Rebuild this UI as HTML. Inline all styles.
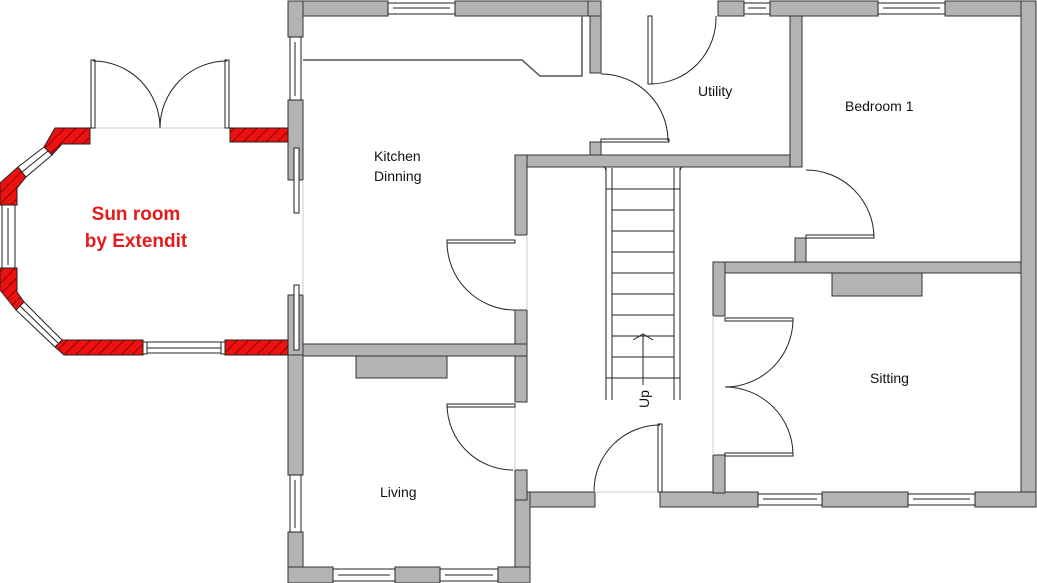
<!DOCTYPE html>
<html><head><meta charset="utf-8"><style>
html,body{margin:0;padding:0;background:#fff;width:1037px;height:583px;overflow:hidden}
svg{display:block}
text{font-family:"Liberation Sans",sans-serif;font-size:14px;fill:#111}
</style></head><body>
<svg width="1037" height="583" viewBox="0 0 1037 583">
<defs>
<pattern id="h" width="8" height="8" patternUnits="userSpaceOnUse" patternTransform="rotate(45)">
<rect width="8" height="8" fill="#ee1111"/><line x1="0" y1="0" x2="0" y2="8" stroke="#600" stroke-width="1.5"/>
</pattern>
</defs>
<g fill="#b3b3b3" stroke="#333" stroke-width="1">
<rect x="288" y="1" width="100" height="15"/>
<rect x="455" y="1" width="133" height="15"/>
<rect x="588" y="1" width="13" height="15"/>
<rect x="718" y="1" width="26" height="15"/>
<rect x="770" y="1" width="108" height="15"/>
<rect x="945" y="1" width="91" height="15"/>
<rect x="1021" y="1" width="15" height="506"/>
<rect x="515" y="492" width="80" height="15"/>
<rect x="660" y="492" width="98" height="15"/>
<rect x="822" y="492" width="86" height="15"/>
<rect x="975" y="492" width="61" height="15"/>
<rect x="515" y="492" width="15" height="91"/>
<rect x="288" y="1" width="15" height="36"/>
<rect x="288" y="100" width="15" height="30"/>
<rect x="288" y="318" width="15" height="157"/>
<rect x="288" y="532" width="15" height="51"/>
<rect x="288" y="567" width="45" height="16"/>
<rect x="395" y="567" width="45" height="16"/>
<rect x="498" y="567" width="32" height="16"/>
<rect x="590" y="16" width="11" height="57"/>
<rect x="590" y="142" width="11" height="14"/>
<rect x="515" y="155" width="287" height="12"/>
<rect x="515" y="155" width="12" height="80"/>
<rect x="515" y="310" width="12" height="92"/>
<rect x="515" y="470" width="12" height="30"/>
<rect x="303" y="344" width="224" height="12"/>
<rect x="790" y="16" width="12" height="151"/>
<rect x="795" y="238" width="11" height="26"/>
<rect x="713" y="262" width="308" height="11"/>
<rect x="713" y="262" width="12" height="54"/>
<rect x="713" y="455" width="12" height="38"/>
<rect x="356" y="356" width="91" height="22"/>
<rect x="832" y="273" width="90" height="23"/>
<rect x="288" y="100" width="15" height="80"/>
<rect x="288" y="295" width="15" height="60"/>
</g>
<g stroke="#222" fill="#fff" stroke-width="1">
<rect x="388" y="3" width="67" height="11"/><line x1="393" y1="8" x2="450" y2="8"/>
<rect x="744" y="3" width="26" height="11"/><line x1="748" y1="8" x2="766" y2="8"/>
<rect x="878" y="3" width="67" height="11"/><line x1="883" y1="8" x2="940" y2="8"/>
<rect x="758" y="494" width="64" height="11"/><line x1="763" y1="499" x2="817" y2="499"/>
<rect x="908" y="494" width="67" height="11"/><line x1="913" y1="499" x2="970" y2="499"/>
<rect x="333" y="569" width="62" height="12"/><line x1="338" y1="575" x2="390" y2="575"/>
<rect x="440" y="569" width="58" height="12"/><line x1="445" y1="575" x2="493" y2="575"/>
<rect x="290" y="37" width="11" height="63"/><line x1="295" y1="42" x2="295" y2="96"/>
<rect x="290" y="475" width="11" height="57"/><line x1="295" y1="480" x2="295" y2="528"/>
<rect x="294" y="148" width="5" height="65"/>
<rect x="294" y="285" width="5" height="65"/>
</g>
<g stroke="#ccc" fill="none" stroke-width="1">
<line x1="303" y1="180" x2="303" y2="295"/>
<line x1="527" y1="235" x2="527" y2="310"/>
<line x1="515" y1="402" x2="515" y2="470"/>
<line x1="713" y1="316" x2="713" y2="455"/>
<line x1="595" y1="492" x2="660" y2="492"/>
<line x1="92" y1="128" x2="227" y2="128"/>
</g>
<g stroke="#222" fill="none" stroke-width="1">
<rect x="447" y="240" width="68" height="3" fill="#fff"/><path d="M447 242 A68 68 0 0 0 515 310"/>
<rect x="447" y="404" width="68" height="3" fill="#fff"/><path d="M447 405 A66 66 0 0 0 513 470"/>
<rect x="601" y="139" width="68" height="3" fill="#fff"/><path d="M601 74 A67 67 0 0 1 668 141"/>
<rect x="648" y="16" width="4" height="68" fill="#fff"/><path d="M650 84 A66 66 0 0 0 716 16"/>
<rect x="806" y="235" width="68" height="3" fill="#fff"/><path d="M806 170 A68 68 0 0 1 874 238"/>
<rect x="658" y="424" width="4" height="68" fill="#fff"/><path d="M660 425 A66 66 0 0 0 594 491"/>
<rect x="725" y="318" width="68" height="3" fill="#fff"/><path d="M793 320 A68 68 0 0 1 725 387"/>
<rect x="725" y="453" width="68" height="3" fill="#fff"/><path d="M793 454 A68 68 0 0 0 725 387"/>
<rect x="91" y="60" width="4" height="68" fill="#fff"/><path d="M93 61 A67 67 0 0 1 160 128"/>
<rect x="225" y="60" width="4" height="68" fill="#fff"/><path d="M227 61 A67 67 0 0 0 160 128"/>
</g>
<path d="M303 60 L522 60 L540 76 L582 76 L582 16" stroke="#555" stroke-width="1.5" fill="none"/>
<g stroke="#222" fill="none" stroke-width="1">
<path d="M606 172 q0 -4 -2 -5 M680 172 q0 -4 2 -5"/>
<path d="M612 168 v232 M606 168 v232 M674 168 v232 M680 168 v232"/>
<rect x="606" y="189" width="6" height="189"/>
<rect x="674" y="189" width="6" height="189"/>
<path d="M612 189 h62 M612 210 h62 M612 231 h62 M612 252 h62 M612 273 h62 M612 294 h62 M612 315 h62 M612 336 h62 M612 357 h62 M612 378 h62"/>
<path d="M643 335 v50 M633 340 l10 -6 l10 6"/>
</g>
<text x="0" y="0" transform="translate(649,408) rotate(-90)" font-size="13">Up</text>
<!-- sun room walls -->
<g fill="url(#h)" stroke="#222" stroke-width="1">
<polygon points="55,128 90,128 90,144 62,144 52,155 44,147"/>
<rect x="230" y="128" width="58" height="14"/>
<polygon points="18,167 26,177 17,188 17,205 0,205 0,183"/>
<polygon points="0,268 17,268 17,292 24,302 16,310 0,290"/>
<polygon points="62,340 143,340 143,355 64,355 55,347"/>
<rect x="225" y="340" width="63" height="15"/>
</g>
<g stroke="#222" fill="#fff" stroke-width="1">
<polygon points="44,147 52,155 26,177 18,167"/>
<line x1="48" y1="151" x2="22" y2="172"/>
<rect x="2" y="205" width="13" height="63"/><line x1="8" y1="208" x2="8" y2="265"/>
<polygon points="24,302 16,310 55,347 62,340"/>
<line x1="20" y1="306" x2="58" y2="343"/>
<rect x="143" y="342" width="82" height="11"/><line x1="147" y1="348" x2="221" y2="348"/>
<rect x="143" y="342" width="4" height="12"/><rect x="221" y="342" width="4" height="12"/>
</g>
<text x="374" y="161">Kitchen</text>
<text x="374" y="181">Dinning</text>
<text x="698" y="96">Utility</text>
<text x="845" y="111">Bedroom 1</text>
<text x="870" y="383">Sitting</text>
<text x="380" y="497">Living</text>
<text x="136" y="220" text-anchor="middle" style="fill:#e41b1b;font-weight:bold;font-size:19px">Sun room</text>
<text x="136" y="247" text-anchor="middle" style="fill:#e41b1b;font-weight:bold;font-size:19px">by Extendit</text>
</svg>
</body></html>
